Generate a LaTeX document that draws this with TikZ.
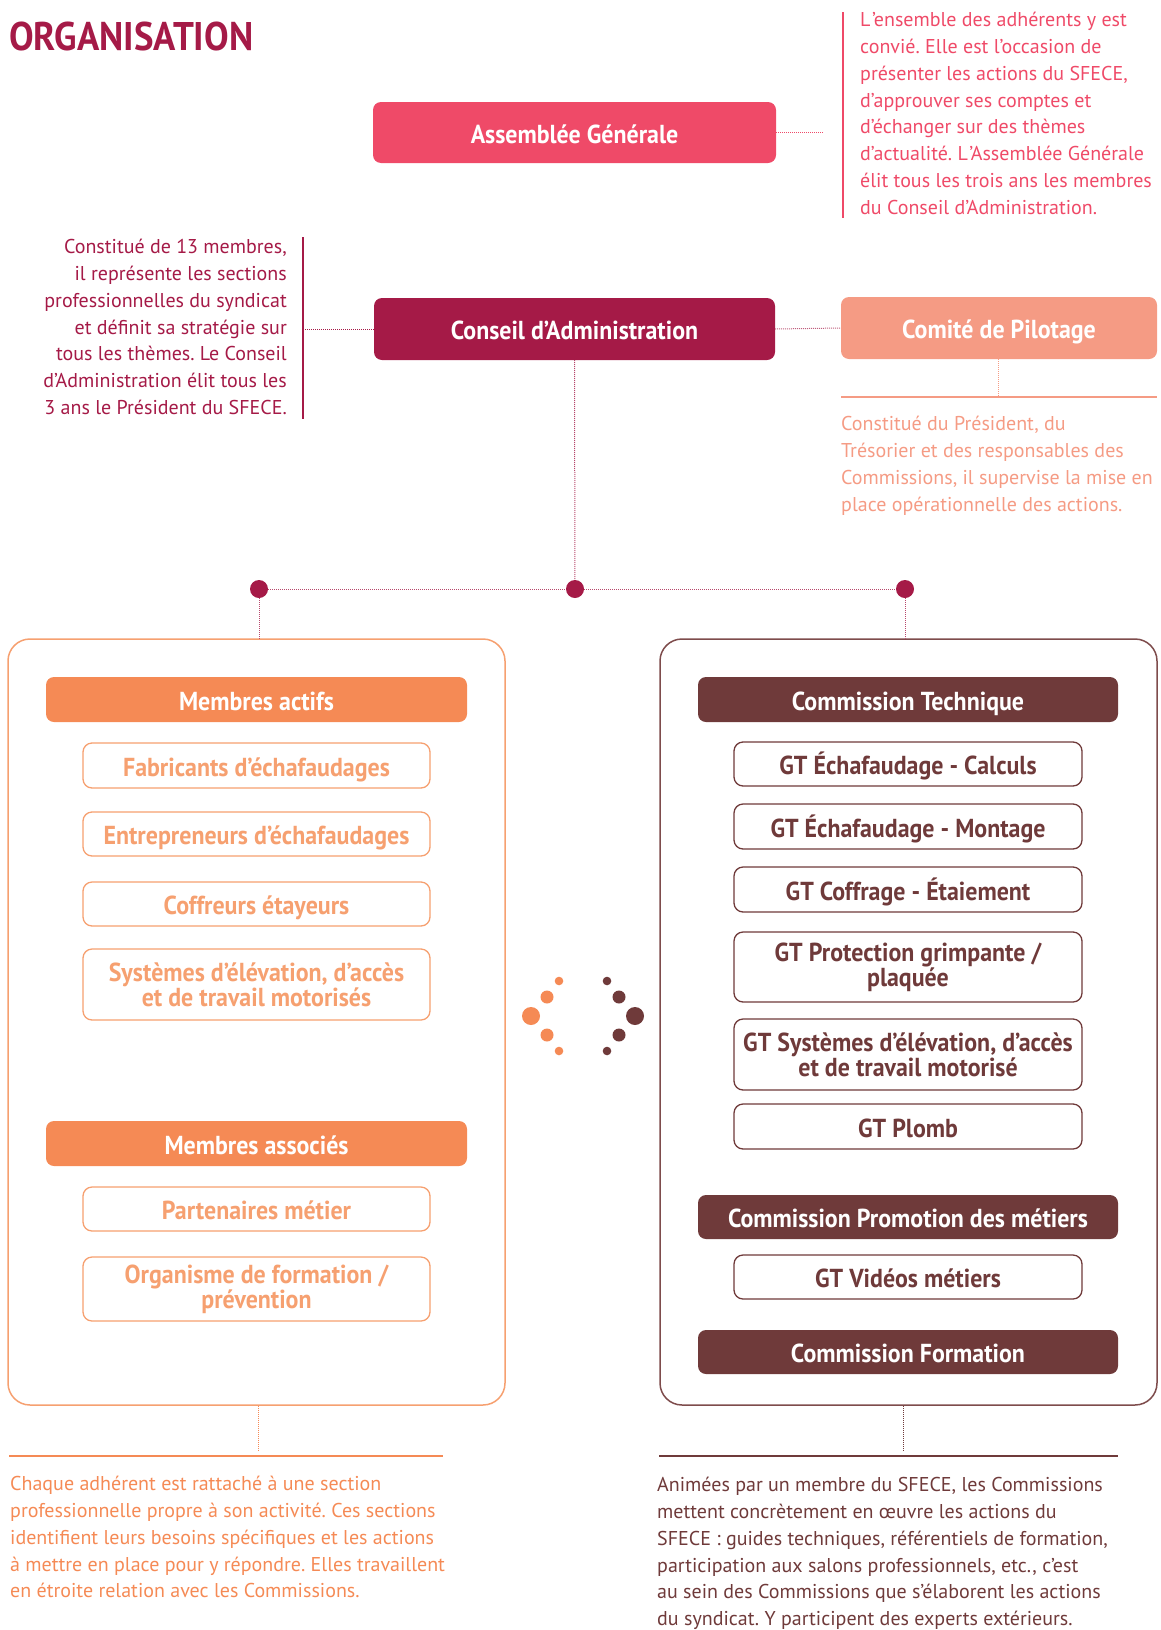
\documentclass[tikz,border=0pt]{standalone}
\usepackage{fontspec}
\setmainfont{PT Sans}
\newfontfamily\bodyfont{PT Sans}
\newfontfamily\boxfont[FakeStretch=0.92]{PT Sans}
\definecolor{crimson}{HTML}{A51A47}
\definecolor{agpink}{HTML}{EF4A68}
\definecolor{salmon}{HTML}{F59B84}
\definecolor{orng}{HTML}{F58A55}
\definecolor{lorng}{HTML}{F6A070}
\definecolor{brwn}{HTML}{6F3A3A}
\definecolor{lbrwn}{HTML}{7E4C4C}
\frenchspacing
\begin{document}
\begin{tikzpicture}[x=1pt,y=-1pt,
  filled/.style={rounded corners=8pt, inner sep=0pt, text=white, align=center,
    font=\boxfont\bfseries\fontsize{26}{23}\selectfont},
  outl/.style={draw, fill=white, line width=1.3pt, rounded corners=9pt, inner sep=0pt, align=center,
    font=\boxfont\bfseries\fontsize{26}{23}\selectfont},
  one/.style={text height=22pt, text depth=1pt},
  panel/.style={draw, line width=1.5pt, rounded corners=22pt, inner sep=0pt},
  dotline/.style={line width=1pt, dash pattern=on 1pt off 1pt},
  body/.style={inner sep=0pt, font=\bodyfont\fontsize{20}{26.8}\selectfont},
  hub/.style={circle, fill=crimson, inner sep=0pt, minimum size=18pt}]
\useasboundingbox (0,0) rectangle (1160,1630);

% title
\node[anchor=north west, inner sep=0pt, text=crimson, font=\boxfont\bfseries\fontsize{40}{42}\selectfont] (title) at (9,22) {ORGANISATION};

% top level boxes
\node[filled, one, fill=agpink, minimum width=403pt, minimum height=61pt] (ag) at (574.5,132.5) {Assemblée Générale};
\node[filled, one, fill=crimson, minimum width=401pt, minimum height=62pt] (ca) at (574.5,329) {Conseil d’Administration};
\node[filled, one, fill=salmon, minimum width=316pt, minimum height=62pt] (cp) at (999,328) {Comité de Pilotage};

% AG description
\coordinate (agend) at (823,132.5);
\draw[agpink, dotline] (ag.east) -- (agend);
\draw[agpink, line width=2.5pt] (843,12) -- (843,218);
\node[body, anchor=north west, align=left, text=agpink] (agtext) at (860,12) {L\kern1.5pt’ensemble des adhérents y est\\convié. Elle est l’occasion de\\présenter les actions du SFECE,\\d’approuver ses comptes et\\d’échanger sur des thèmes\\d’actualité. L\kern1.5pt’Assemblée Générale\\élit tous les trois ans les membres\\du Conseil d’Administration.};

% CA description
\coordinate (caend) at (305,329);
\draw[crimson, dotline] (ca.west) -- (caend);
\draw[crimson, line width=2.5pt] (303,237) -- (303,419);
\node[body, anchor=north east, align=right, text=crimson] (catext) at (287,239) {Constitué de 13 membres,\\il représente les sections\\professionnelles du syndicat\\et définit sa stratégie sur\\tous les thèmes. Le Conseil\\d’Administration élit tous les\\3 ans le Président du SFECE.};

% Comite
\draw[crimson!70, dotline] (ca.east) -- (cp.west);
\coordinate (cpend) at (998,397);
\draw[salmon, dotline] (cp.south -| cpend) -- (cpend);
\draw[salmon, line width=2.5pt] (841,397) -- (1157,397);
\node[body, anchor=north west, align=left, text=salmon] (cptext) at (841,416) {Constitué du Président, du\\Trésorier et des responsables des\\Commissions, il supervise la mise en\\place opérationnelle des actions.};

% hubs
\node[hub] (hm) at (575,589) {};
\node[hub] (hl) at (259,589) {};
\node[hub] (hr) at (905,589) {};
\draw[crimson!80, dotline] (ca.south) -- (hm);
\draw[crimson!80, dotline] (hl) -- (hm) -- (hr);

% panels
\node[panel, draw=lorng, minimum width=497pt, minimum height=766pt] (lp) at (256.5,1022) {};
\node[panel, draw=lbrwn, minimum width=497pt, minimum height=766pt] (rp) at (908.5,1022) {};
\draw[crimson!80, dotline] (hl) -- (hl |- lp.north);
\draw[crimson!80, dotline] (hr) -- (hr |- rp.north);

% left column
\node[filled, one, fill=orng, minimum width=421pt, minimum height=45pt] (ma) at (256.5,699.5) {Membres actifs};
\node[outl, one, draw=lorng, text=lorng, minimum width=347pt, minimum height=45pt] (fab) at (256.5,765.5) {Fabricants d’échafaudages};
\node[outl, one, draw=lorng, text=lorng, minimum width=347pt, minimum height=44pt] (ent) at (256.5,834) {Entrepreneurs d’échafaudages};
\node[outl, one, draw=lorng, text=lorng, minimum width=347pt, minimum height=44pt] (cof) at (256.5,904) {Coffreurs étayeurs};
\node[outl, draw=lorng, text=lorng, minimum width=347pt, minimum height=71pt] (sys) at (256.5,984.5) {Systèmes d’élévation, d’accès\\et de travail motorisés};
\node[filled, one, fill=orng, minimum width=421pt, minimum height=45pt] (mas) at (256.5,1143.5) {Membres associés};
\node[outl, one, draw=lorng, text=lorng, minimum width=347pt, minimum height=44pt] (par) at (256.5,1209) {Partenaires métier};
\node[outl, draw=lorng, text=lorng, minimum width=347pt, minimum height=64pt] (org) at (256.5,1289) {Organisme de formation /\\prévention};

% right column
\node[filled, one, fill=brwn, minimum width=420pt, minimum height=45pt] (ct) at (908,699.5) {Commission Technique};
\node[outl, one, draw=brwn, text=brwn, minimum width=348pt, minimum height=44pt] (gt1) at (908,764) {GT Échafaudage - Calculs};
\node[outl, one, draw=brwn, text=brwn, minimum width=348pt, minimum height=45pt] (gt2) at (908,826.5) {GT Échafaudage - Montage};
\node[outl, one, draw=brwn, text=brwn, minimum width=348pt, minimum height=45pt] (gt3) at (908,889.5) {GT Coffrage - Étaiement};
\node[outl, draw=brwn, text=brwn, minimum width=348pt, minimum height=70pt] (gt4) at (908,967) {GT Protection grimpante /\\plaquée};
\node[outl, draw=brwn, text=brwn, minimum width=348pt, minimum height=71pt] (gt5) at (908,1054.5) {GT Systèmes d’élévation, d’accès\\et de travail motorisé};
\node[outl, one, draw=brwn, text=brwn, minimum width=348pt, minimum height=45pt] (gt6) at (908,1126.5) {GT Plomb};
\node[filled, one, fill=brwn, minimum width=420pt, minimum height=44pt] (cpm) at (908,1217) {Commission Promotion des métiers};
\node[outl, one, draw=brwn, text=brwn, minimum width=348pt, minimum height=44pt] (gt7) at (908,1277) {GT Vidéos métiers};
\node[filled, one, fill=brwn, minimum width=420pt, minimum height=44pt] (cf) at (908,1352) {Commission Formation};

% middle dots
\foreach \px/\py/\r in {559/981/4.3, 547/997/6.5, 531/1016/9, 547/1035/6.5, 559/1051/4.3}
  \fill[orng] (\px,\py) circle[radius=\r pt];
\foreach \px/\py/\r in {607/981/4.3, 619/997/6.5, 635/1016/9, 619/1035/6.5, 607/1051/4.3}
  \fill[brwn] (\px,\py) circle[radius=\r pt];

% bottom notes
\coordinate (lend) at (258,1451);
\draw[orng, dotline] (lp.south -| lend) -- (lend);
\draw[orng, line width=2.5pt] (9,1456) -- (443,1456);
\node[body, anchor=north west, align=left, text=orng] (ltext) at (10,1476) {Chaque adhérent est rattaché à une section\\professionnelle propre à son activité. Ces sections\\identifient leurs besoins spécifiques et les actions\\à mettre en place pour y répondre. Elles travaillent\\en étroite relation avec les Commissions.};

\coordinate (rend) at (903,1451);
\draw[brwn, dotline] (rp.south -| rend) -- (rend);
\draw[brwn, line width=2.5pt] (659,1456) -- (1118,1456);
\node[body, anchor=north west, align=left, text=brwn] (rtext) at (657,1477) {Animées par un membre du SFECE, les Commissions\\mettent concrètement en œuvre les actions du\\SFECE : guides techniques, référentiels de formation,\\participation aux salons professionnels, etc., c’est\\au sein des Commissions que s’élaborent les actions\\du syndicat. Y participent des experts extérieurs.};
\end{tikzpicture}
\end{document}
